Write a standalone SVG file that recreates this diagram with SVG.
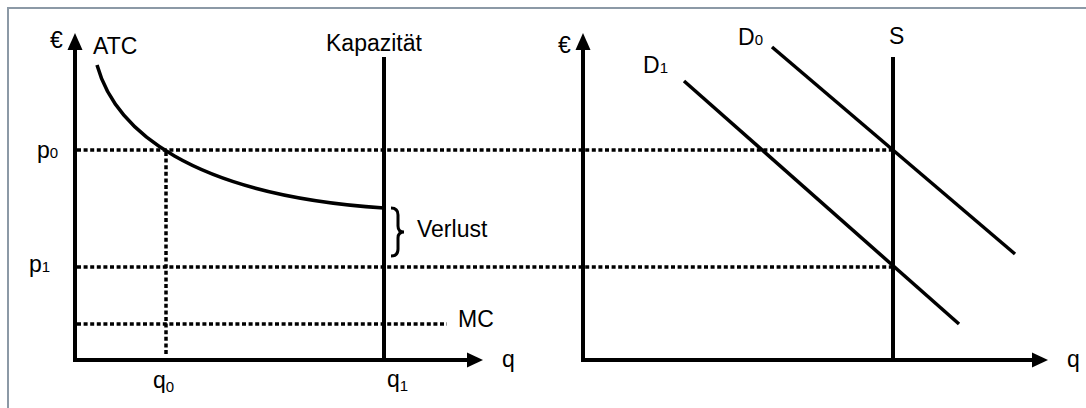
<svg xmlns="http://www.w3.org/2000/svg" width="1086" height="408" viewBox="0 0 1086 408">
<style>
text{font-family:"Liberation Sans",Arial,sans-serif;font-size:23px;fill:#000}
.sub{font-size:15px}
.axis{fill:none;stroke:#000;stroke-width:4;stroke-linejoin:miter}
.line{fill:none;stroke:#000;stroke-width:3.5}
.vert{fill:none;stroke:#000;stroke-width:4}
.dot{fill:none;stroke:#000;stroke-width:3.5;stroke-dasharray:4 2.6}
.head{fill:#000}
</style>
<rect x="0" y="0" width="1086" height="408" fill="#fff"/>
<path d="M8,408 V8 H1086" fill="none" stroke="#8c99a6" stroke-width="2"/>
<g id="connectors">
  <!-- left axes -->
  <polyline class="axis" points="75,48 75,360 468,360"/>
  <polygon class="head" points="75,33 67.5,50 82.5,50"/>
  <polygon class="head" points="483,360 467,352.5 467,367.5"/>
  <!-- right axes -->
  <polyline class="axis" points="583,48 583,360 1034,360"/>
  <polygon class="head" points="583,33 575.5,50 590.5,50"/>
  <polygon class="head" points="1048,360 1032,352.5 1032,367.5"/>
  <!-- dotted guide lines -->
  <line class="dot" x1="77" y1="150" x2="893" y2="150"/>
  <line class="dot" x1="77" y1="267" x2="893" y2="267"/>
  <line class="dot" x1="77" y1="324" x2="447" y2="324"/>
  <line class="dot" x1="166" y1="152" x2="166" y2="354"/>
  <!-- capacity and supply -->
  <line class="vert" x1="384" y1="57" x2="384" y2="360"/>
  <line class="vert" x1="893" y1="57" x2="893" y2="360"/>
  <!-- ATC curve -->
  <path class="line" d="M97,65 C115,130 190,195 384,208"/>
  <!-- demand curves -->
  <line class="line" x1="772" y1="47" x2="1015" y2="254"/>
  <line class="line" x1="684" y1="81" x2="959" y2="324"/>
  <!-- brace -->
  <path fill="none" stroke="#000" stroke-width="3" d="M391,208 Q398,208 398,215 V226 Q398,232 404,232 Q398,232 398,238 V249 Q398,256 391,256"/>
</g>
<g id="labels-left">
  <text x="50" y="48">€</text>
  <text x="93" y="54">ATC</text>
  <text x="326" y="51">Kapazität</text>
  <text x="37" y="158">p<tspan class="sub" font-size="13">0</tspan></text>
  <text x="29" y="272">p<tspan class="sub">1</tspan></text>
  <text x="417" y="237">Verlust</text>
  <text x="458" y="327">MC</text>
  <text x="502" y="367">q</text>
  <text x="153" y="388">q<tspan class="sub" dy="4">0</tspan></text>
  <text x="387" y="387">q<tspan class="sub" dy="4">1</tspan></text>
</g>
<g id="labels-right">
  <text x="558" y="53">€</text>
  <text x="738" y="45">D<tspan class="sub" font-size="16">0</tspan></text>
  <text x="643" y="73">D<tspan class="sub">1</tspan></text>
  <text x="889" y="44">S</text>
  <text x="1067" y="367">q</text>
</g>
</svg>
